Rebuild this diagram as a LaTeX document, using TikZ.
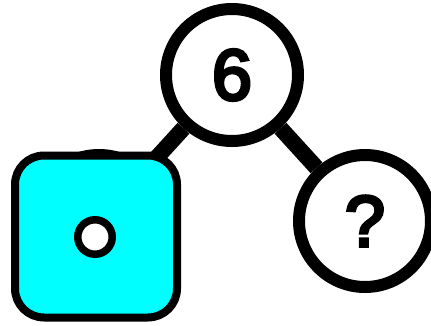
\documentclass[tikz,border=0pt]{standalone}
\usepackage{fontspec}
\setmainfont{Liberation Sans}
\newfontfamily\lblfont[FakeBold=4.5]{Liberation Sans}
\definecolor{aqua}{RGB}{0,255,255}
\tikzset{
  px/.style={x=1pt,y=-1pt},
  circ/.style={circle,draw=black,line width=12pt,fill=white,minimum size=132pt,inner sep=0pt,font=\lblfont\fontsize{72}{72}\selectfont},
  sq/.style={rectangle,rounded corners=29pt,draw=black,line width=8pt,fill=aqua,minimum size=162pt,inner sep=0pt},
  dotnode/.style={circle,draw=black,line width=7.5pt,fill=white,minimum size=34.5pt,inner sep=0pt},
  link/.style={draw=black,line width=16pt}
}
\begin{document}
\begin{tikzpicture}[px]
\useasboundingbox (0,0) rectangle (431,325);
\node[circ] (six) at (232,75) {6};
\node[circ] (q) at (365,221) {?};
\node[circ] (left) at (99,221) {};
\draw[link] (six) -- (q);
\draw[link] (six) -- (left);
\node[sq] (s) at (96,236.5) {};
\node[dotnode] (d) at (95,237) {};
\end{tikzpicture}
\end{document}
